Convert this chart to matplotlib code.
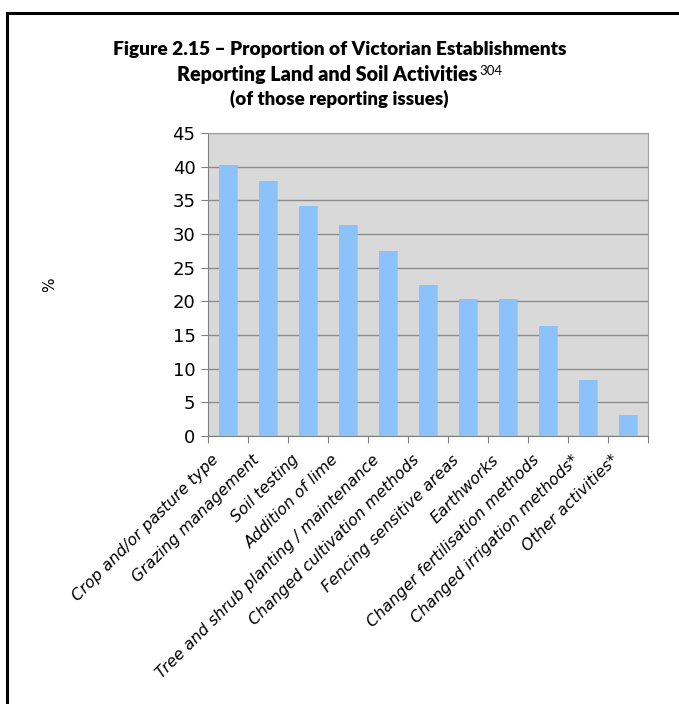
import matplotlib
matplotlib.use("Agg")
import matplotlib.pyplot as plt
import numpy as np

categories = [
    "Crop and/or pasture type",
    "Grazing management",
    "Soil testing",
    "Addition of lime",
    "Tree and shrub planting / maintenance",
    "Changed cultivation methods",
    "Fencing sensitive areas",
    "Earthworks",
    "Changer fertilisation methods",
    "Changed irrigation methods*",
    "Other activities*",
]
values = [40.2, 37.9, 34.2, 31.3, 27.5, 22.4, 20.3, 20.3, 16.4, 8.3, 3.1]
yticks = [0, 5, 10, 15, 20, 25, 30, 35, 40, 45]

W, H = 679, 704
fig = plt.figure(figsize=(W / 100, H / 100), dpi=100)
fig.patch.set_facecolor("white")

# frame (top and left lines)
fig.add_artist(plt.Line2D([7 / W, 1.0], [1 - 13 / H, 1 - 13 / H], color="black", lw=2.2))
fig.add_artist(plt.Line2D([7 / W, 7 / W], [0, 1 - 13 / H], color="black", lw=2.2))

tfont = ["Lato", "DejaVu Sans"]
fig.text(0.5, 1 - 50 / H, "Figure 2.15 \u2013 Proportion of Victorian Establishments",
         ha="center", va="center", fontsize=13.8, fontweight="heavy", family=tfont)
t2 = fig.text(0.5, 1 - 75 / H, "Reporting Land and Soil Activities",
              ha="center", va="center", fontsize=14.2, fontweight="heavy", family=tfont)
sup = fig.text(0.5, 1 - 71 / H, "304", ha="left", va="center", fontsize=9.5, family=tfont)
fig.text(0.5, 1 - 99 / H, "(of those reporting issues)",
         ha="center", va="center", fontsize=13.5, fontweight="heavy", family=tfont)
# position line 2 and its superscript as one centred block
fig.canvas.draw()
r = fig.canvas.get_renderer()
w2 = t2.get_window_extent(r).width
ws = sup.get_window_extent(r).width
total = w2 + 2 + ws
x0 = (W - total) / 2
t2.set_ha("left")
t2.set_x(x0 / W)
sup.set_x((x0 + w2 + 2) / W)

left, right, top, bottom = 208, 648, 133, 436
ax = fig.add_axes([left / W, 1 - bottom / H, (right - left) / W, (bottom - top) / H])
ax.set_facecolor("#d9d9d9")
x = np.arange(len(categories))
# subtle shadow
ax.bar(x + 0.04, values, width=0.44, color="#a8b4c0", zorder=2, alpha=0.6)
ax.bar(x, values, width=0.44, color="#8cc2fa", zorder=3)
ax.set_xlim(-0.5, len(categories) - 0.5)
ax.set_ylim(0, 45)
ax.set_yticks(yticks)
ax.set_yticklabels([str(v) for v in yticks], fontsize=13, family=["DejaVu Sans"])
ax.yaxis.grid(True, color="#8c8c8c", lw=1.0, zorder=1)
ax.set_axisbelow(True)
for s in ["top", "right"]:
    ax.spines[s].set_color("#a0a0a0")
ax.spines["left"].set_color("#808080")
ax.spines["bottom"].set_color("#808080")
ax.tick_params(axis="y", length=5, color="#808080", pad=4)
ax.set_xticks(np.arange(-0.5, len(categories), 1.0), minor=False)
ax.set_xticklabels([])
ax.tick_params(axis="x", length=5, color="#808080")
for i, c in enumerate(categories):
    ax.text(i - 0.42, -2.4, c, rotation=45, ha="right", va="top", rotation_mode="anchor",
            fontsize=11.4, style="italic", family=["DejaVu Sans"])
ax.set_ylabel("%", fontsize=11, labelpad=0)
ax.yaxis.set_label_coords((57 - left) / (right - left), 0.5)

fig.savefig("out.png", dpi=100)
